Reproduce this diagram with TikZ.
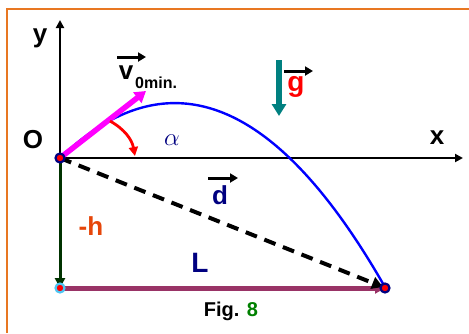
\documentclass[tikz,border=0pt]{standalone}
\usepackage{fontspec}
\setmainfont{Liberation Sans}
\usetikzlibrary{arrows.meta}
\definecolor{frameorange}{RGB}{232,119,34}
\definecolor{vmag}{RGB}{255,0,255}
\definecolor{gteal}{RGB}{0,128,128}
\definecolor{hgreen}{RGB}{0,51,0}
\definecolor{lmaroon}{RGB}{153,51,102}
\definecolor{hred}{RGB}{230,70,10}
\definecolor{navy}{RGB}{0,0,128}
\definecolor{figgreen}{RGB}{0,128,0}
\begin{document}
\begin{tikzpicture}[x=1pt,y=-1pt,
  lbl/.style={font=\bfseries\fontsize{26}{26}\selectfont, inner sep=0pt},
  vecarrow/.style={line width=3pt,-{Triangle[length=8pt,width=9pt]}},
  axis/.style={line width=2.6pt,-{Triangle[length=8pt,width=8pt]}},
  dot/.style={circle, inner sep=0pt, minimum size=9pt, draw=#1, line width=2.2pt, fill=red}]
\useasboundingbox (0,0) rectangle (469,333);
% frame
\draw[frameorange, line width=1.8pt] (7,333) -- (7,9) -- (469,9);
% points
\coordinate (O) at (60,158);
\coordinate (ytop) at (60,20);
\coordinate (xend) at (463,158);
\coordinate (B) at (60,288);
\coordinate (E) at (385,288);
\coordinate (vtip) at (146,91);
% axes
\draw[axis] (O) -- (ytop);
\draw[axis] (O) -- (xend);
% trajectory
\draw[blue, line width=2.4pt] plot[domain=0:325, samples=80, smooth] ({\x+60}, {158 - (0.9565*\x - 0.004159*\x*\x)});
% -h line
\draw[hgreen, line width=3pt, -{Triangle[length=10pt,width=10pt]}] (O) -- (B);
% L line
\draw[lmaroon, line width=5pt, -{Triangle[length=10pt,width=11pt]}] (B) -- (E);
% d dashed
\draw[black, line width=4pt, dash pattern=on 12pt off 8pt, -{Triangle[length=11pt,width=12pt]}] (O) -- (383,287);
% v0 arrow
\draw[vmag, line width=5.5pt, -{Triangle[length=11pt,width=13pt]}] (O) -- (vtip);
% angle arc
\coordinate (a1) at (110,121);
\coordinate (a2) at (135,156);
\draw[red, line width=2.8pt, -{Triangle[length=9pt,width=9pt]}] (a1) to[bend left=25] (a2);
% g arrow
\draw[gteal, line width=5.5pt, -{Triangle[length=12pt,width=14pt]}] (279,60) -- (279,116);
% dots
\node[dot=navy] (Odot) at (O) {};
\node[dot=cyan!70!white] (Bdot) at (B) {};
\node[dot=navy] (Edot) at (E) {};
% labels
\node[lbl] (ylab) at (40,38) {y};
\node[lbl] (Olab) at (33,140) {O};
\node[lbl] (xlab) at (437,138) {x};
\node[lbl] (vlab) at (126,73) {v};
\node[font=\bfseries\fontsize{16}{16}\selectfont, inner sep=0pt, anchor=west] (vsub) at (135,83) {0min.};
\draw[vecarrow] (117,57) -- (146,57);
\node[inner sep=0pt, text=navy, font=\fontsize{26}{26}\selectfont] (alab) at (172,140) {$\alpha$};
\node[lbl, text=red, font=\bfseries\fontsize{28}{28}\selectfont] (glab) at (296,87) {g};
\draw[vecarrow] (284,71) -- (313,71);
\node[lbl, text=navy] (dlab) at (220,195) {d};
\draw[vecarrow] (208,178) -- (238,178);
\node[lbl, text=hred] (hlab) at (91,226) {-h};
\node[lbl, text=navy, font=\bfseries\fontsize{28}{28}\selectfont] (Llab) at (200,263) {L};
\node[inner sep=0pt, font=\bfseries\fontsize{20}{20}\selectfont] (fig) at (231,311) {Fig. \textcolor{figgreen}{8}};
\end{tikzpicture}
\end{document}
